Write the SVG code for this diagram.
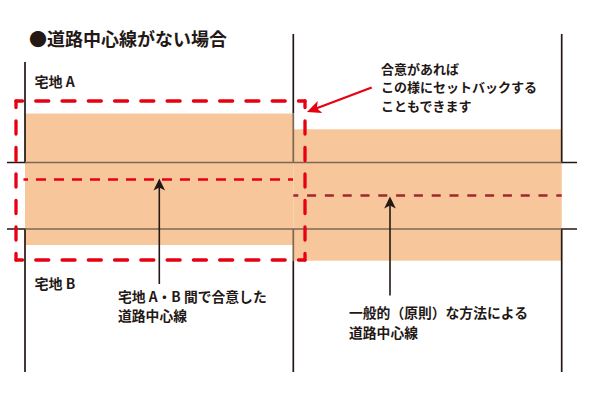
<svg xmlns="http://www.w3.org/2000/svg" width="600" height="400" viewBox="0 0 600 400">
<style>
.t{font-family:"Noto Sans CJK JP","Noto Sans",sans-serif;font-weight:700;fill:#231815}
.lot{fill:#f7c79b}
.ln{stroke:#231815;stroke-width:1.7;fill:none}
.lnb{stroke:#7d6754;stroke-width:1.7;fill:none}
.box{stroke:#e60012;stroke-width:3.3;stroke-linecap:round;fill:none}
.boxh{stroke-dasharray:13 13.27;stroke-dashoffset:6.5}
.boxv{stroke-dasharray:13 13.5;stroke-dashoffset:6.5}
.cl{stroke:#e60012;stroke-width:2.3;stroke-dasharray:10 8;stroke-dashoffset:-12.5;fill:none}
.cl2{stroke:#a0282d;stroke-width:2.3;stroke-dasharray:9 8.8;stroke-dashoffset:4;fill:none}
.arr{stroke:#231815;stroke-width:1.6;fill:none}
.arrr{stroke:#e60012;stroke-width:2.2;fill:none}
</style>
<defs>
<marker id="ah" markerUnits="userSpaceOnUse" markerWidth="14" markerHeight="14" viewBox="0 -7 14 14" refX="4" refY="0" orient="auto">
<path d="M12,0 L0,-5.8 L3,0 L0,5.8 Z" fill="#231815"/>
</marker>
<marker id="ahr" markerUnits="userSpaceOnUse" markerWidth="16" markerHeight="16" viewBox="0 -8 16 16" refX="5" refY="0" orient="auto">
<path d="M14,0 L0,-6.5 L3.5,0 L0,6.5 Z" fill="#e60012"/>
</marker>
</defs>
<rect x="0" y="0" width="600" height="400" fill="#ffffff"/>

<g id="lots">
<rect class="lot" x="25" y="113.5" width="268.3" height="131.5"/>
<rect class="lot" x="293.3" y="129.3" width="268.4" height="131.4"/>
</g>

<g id="boundaries">
<path class="ln" d="M25,62 V162.5 H7"/>
<path class="ln" d="M7,229 H25 V372"/>
<path class="ln" d="M561.7,34 V162.5 H577"/>
<path class="ln" d="M577,229 H561.7 V372"/>
<path class="ln" d="M293.3,34 V113.5"/>
<path class="ln" d="M293.3,261 V372"/>
<path class="lnb" d="M25,162.5 H561.7"/>
<path class="lnb" d="M25,229 H561.7"/>
<path class="lnb" d="M293.3,113.5 V162.5"/>
<path class="lnb" d="M293.3,229 V261"/>
</g>

<g id="centerlines">
<path class="cl" d="M23.5,179.5 H293"/>
<path class="cl2" d="M293.3,195.5 H561.7"/>
</g>

<g id="setback-box">
<path class="box boxh" d="M16,101 H305"/>
<path class="box boxh" d="M16,260 H305"/>
<path class="box boxv" d="M16,101 V260"/>
<path class="box boxv" d="M305,101 V260"/>
</g>

<g id="connectors">
<path class="arr" d="M159.3,284 V186.5" marker-end="url(#ah)"/>
<path class="arr" d="M390,295.5 V204.5" marker-end="url(#ah)"/>
<path class="arrr" d="M371.7,87.5 L315.4,108.8" marker-end="url(#ahr)"/>
</g>

<g id="title">
<text class="t" x="29" y="46" font-size="18">●道路中心線がない場合</text>
</g>
<g id="label-lot-a">
<text class="t" x="34.5" y="87" font-size="14">宅地 A</text>
</g>
<g id="label-lot-b">
<text class="t" x="34.5" y="289" font-size="14">宅地 B</text>
</g>
<g id="label-setback">
<text class="t" font-size="13"><tspan x="381" y="73.5">合意があれば</tspan><tspan x="381" y="92">この様にセットバックする</tspan><tspan x="381" y="110.5">こともできます</tspan></text>
</g>
<g id="label-agreed-centerline">
<text class="t" font-size="13.8"><tspan x="118" y="301.8">宅地 A・B 間で合意した</tspan><tspan x="118" y="321.3">道路中心線</tspan></text>
</g>
<g id="label-general-centerline">
<text class="t" font-size="13.8"><tspan x="349" y="318.3">一般的（原則）な方法による</tspan><tspan x="349" y="337.8">道路中心線</tspan></text>
</g>
</svg>
